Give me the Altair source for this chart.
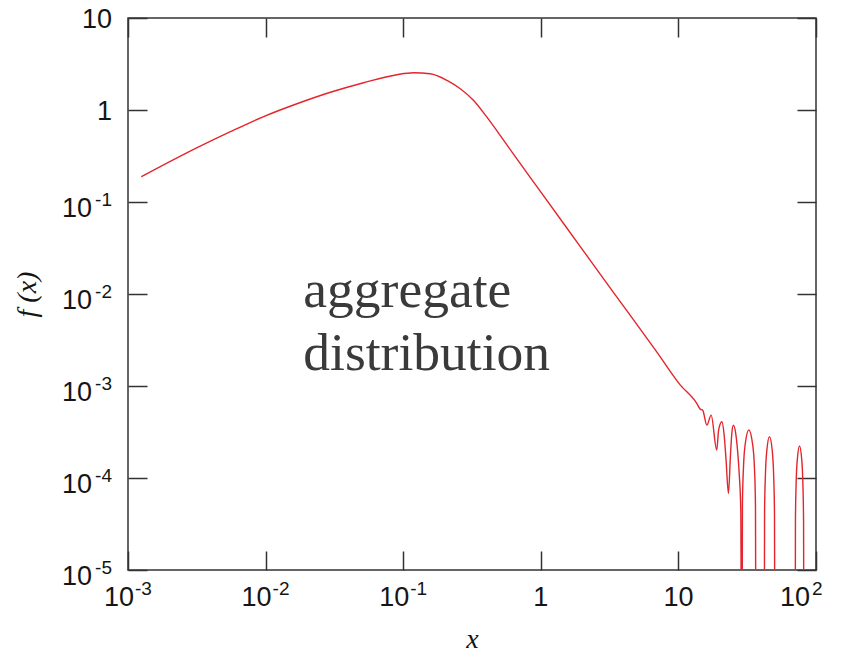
import altair as alt
import pandas as pd

# curve
x_vals = [0.00125, 0.00318, 0.00555, 0.00969, 0.0169, 0.0296, 0.0516, 0.0901, 0.119, 0.157,
          0.208, 0.260, 0.325, 0.406, 0.507, 0.633, 0.990, 1.93, 3.36, 6.96, 10.3,
          13.6, 14.4, 15.0, 16.1, 17.3, 19.0, 19.6, 20.7, 21.5, 22.2,
          23.1, 23.9, 24.5, 25.1, 26.0, 26.9, 27.7, 28.4, 28.9, 29.2,
          29.7, 30.6, 32.5, 34.6, 35.7, 36.3, 36.7, 41.9, 42.3, 42.9,
          43.9, 45.9, 48.1, 49.2, 49.9, 50.4, 70.4, 70.9, 71.7, 73.1,
          75.9, 78.8, 80.3, 81.2, 81.8, 100.0]
y_vals = [0.188, 0.389, 0.581, 0.849, 1.17, 1.56, 1.98, 2.42, 2.54, 2.48,
          2.10, 1.70, 1.27, 0.837, 0.530, 0.331, 0.131, 0.0330, 0.0105, 0.00235, 0.00103,
          6.47e-4, 5.61e-4, 5.47e-4, 3.76e-4, 4.83e-4, 2.01e-4, 3.32e-4, 4.08e-4, 2.93e-4, 1.57e-4,
          6.8e-5, 1.78e-4, 3.16e-4, 3.76e-4, 3.16e-4, 2.01e-4, 1.08e-4, 4.5e-5, 1e-7, 5.22e-5,
          1.29e-4, 2.34e-4, 3.32e-4, 2.34e-4, 1.29e-4, 5.22e-5, 1e-7, 1e-7, 4.41e-5, 1.09e-4,
          1.98e-4, 2.81e-4, 1.98e-4, 1.09e-4, 4.41e-5, 1e-7, 1e-7, 3.5e-5, 8.61e-5, 1.57e-4,
          2.23e-4, 1.57e-4, 8.61e-5, 3.5e-5, 1e-7, 1e-7]

x_ticks = [1e-3, 1e-2, 1e-1, 1, 10, 100]
x_tick_labels = ["10^-3", "10^-2", "10^-1", "1", "10", "10^2"]
y_ticks = [1e-5, 1e-4, 1e-3, 1e-2, 1e-1, 1, 10]
y_tick_labels = ["10^-5", "10^-4", "10^-3", "10^-2", "10^-1", "1", "10"]

note_lines = ["aggregate", "distribution"]
note_x = [0.0188, 0.0188]
note_y = [0.00724, 0.00149]

df = pd.DataFrame({"x": x_vals, "y": y_vals})
notes = pd.DataFrame({"text": note_lines, "x": note_x, "y": note_y})
mirror = pd.DataFrame({"x": [1e-3], "y": [1e-5]})


def split_labels(ticks, labels):
    plain, powers = [], []
    for t, l in zip(ticks, labels):
        if "^" in l:
            b, e = l.split("^")
            powers.append({"v": t, "base": b, "exp": e})
        else:
            plain.append({"v": t, "text": l})
    return pd.DataFrame(plain), pd.DataFrame(powers)


x_plain, x_pow = split_labels(x_ticks, x_tick_labels)
x_pow_last = x_pow[x_pow["v"] == max(x_ticks)]
x_pow = x_pow[x_pow["v"] != max(x_ticks)]
y_plain, y_pow = split_labels(y_ticks, y_tick_labels)

xscale = alt.Scale(type="log", domain=[1e-3, 1e2], nice=False)
yscale = alt.Scale(type="log", domain=[1e-5, 10], nice=False)

FRAME = "#333333"
LABEL = "#151515"
LFONT = "Liberation Sans"
BASE = 27
EXP = 19
H = 552

common = dict(domain=False, grid=False, tickSize=19, offset=-19, tickColor=FRAME,
              tickWidth=1.5, labels=False)

x_axis = alt.Axis(values=x_ticks, title="x", titleFont="Liberation Serif",
                  titleFontStyle="italic", titleFontWeight="normal", titleFontSize=28,
                  titleColor=LABEL, titlePadding=55, **common)
y_axis = alt.Axis(values=y_ticks, title="f  (x)", titleFont="Liberation Serif",
                  titleFontStyle="italic", titleFontWeight="normal", titleFontSize=28,
                  titleColor=LABEL, titlePadding=86, **common)
x_top = alt.Axis(values=x_ticks, title=None, orient="top", **common)
y_right = alt.Axis(values=y_ticks, title=None, orient="right", **common)

line = alt.Chart(df).mark_line(clip=True, color="#e3252c", strokeWidth=1.4,
                               interpolate="monotone").encode(
    x=alt.X("x:Q", scale=xscale, axis=x_axis),
    y=alt.Y("y:Q", scale=yscale, axis=y_axis),
    order="x:Q",
)

frame_axes = alt.Chart(mirror).mark_point(opacity=0).encode(
    x=alt.X("x:Q", scale=xscale, axis=x_top),
    y=alt.Y("y:Q", scale=yscale, axis=y_right),
)

text = alt.Chart(notes).mark_text(align="left", baseline="alphabetic",
                                  font="Liberation Serif", fontSize=53.5,
                                  color="#3a3a3a").encode(
    x=alt.X("x:Q", scale=xscale, axis=None),
    y=alt.Y("y:Q", scale=yscale, axis=None),
    text="text:N",
)


def xtext(data, field, align, dx, dy, size):
    return alt.Chart(data).mark_text(align=align, baseline="middle", dx=dx, dy=dy,
                                     font=LFONT, fontSize=size, color=LABEL).encode(
        x=alt.X("v:Q", scale=xscale, axis=None),
        y=alt.value(H + 28),
        text=f"{field}:N",
    )


def ytext(data, field, xpix, dy, size):
    return alt.Chart(data).mark_text(align="right", baseline="middle", dy=dy,
                                     font=LFONT, fontSize=size, color=LABEL).encode(
        y=alt.Y("v:Q", scale=yscale, axis=None),
        x=alt.value(xpix),
        text=f"{field}:N",
    )


labels = [
    xtext(x_plain, "text", "center", 0, 0, BASE),
    xtext(x_pow, "base", "right", 6, 0, BASE),
    xtext(x_pow, "exp", "left", 7, -9, EXP),
    xtext(x_pow_last, "base", "right", -6, 0, BASE),
    xtext(x_pow_last, "exp", "left", -4, -9, EXP),
    ytext(y_plain, "text", -16, 1.5, BASE),
    ytext(y_pow, "base", -36, 6.5, BASE),
    ytext(y_pow, "exp", -16, -2, EXP),
]

chart = alt.layer(line, frame_axes, text, *labels).resolve_axis(
    x="independent", y="independent"
).properties(
    width=688, height=H, autosize="none",
    padding={"left": 128, "top": 18, "right": 27, "bottom": 87},
    background="white",
).configure_view(stroke=FRAME, strokeWidth=1.5)

chart.save("out.html", embed_options={"renderer": "svg", "actions": False})
